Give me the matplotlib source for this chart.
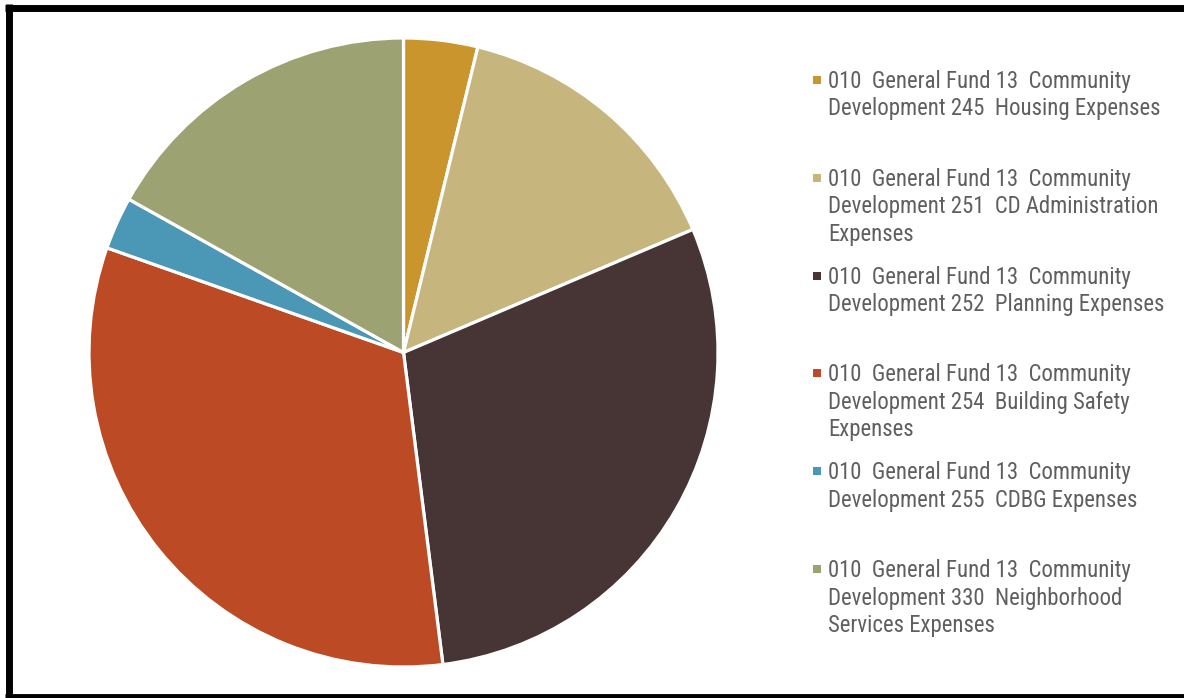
import matplotlib
matplotlib.use("Agg")
import matplotlib.pyplot as plt
from matplotlib.patches import Rectangle

# Community Development expense shares (percent of total)
categories = [
    "010  General Fund 13  Community\nDevelopment 245  Housing Expenses",
    "010  General Fund 13  Community\nDevelopment 251  CD Administration\nExpenses",
    "010  General Fund 13  Community\nDevelopment 252  Planning Expenses",
    "010  General Fund 13  Community\nDevelopment 254  Building Safety\nExpenses",
    "010  General Fund 13  Community\nDevelopment 255  CDBG Expenses",
    "010  General Fund 13  Community\nDevelopment 330  Neighborhood\nServices Expenses",
]
shares = [3.8, 14.8, 29.4, 32.4, 2.7, 16.9]
colors = ["#C9952C", "#C6B67E", "#463534", "#BC4B25", "#4B97B6", "#9DA273"]

W, H = 1184, 698
fig = plt.figure(figsize=(W / 100, H / 100), dpi=100)
ax = fig.add_axes([0, 0, 1, 1])

ax.pie(shares, colors=colors, startangle=90, counterclock=False,
       center=(403.5, H - 352.5), radius=314.5,
       wedgeprops=dict(edgecolor="white", linewidth=2.3))
ax.set_xlim(0, W)
ax.set_ylim(0, H)
ax.set_aspect("equal")
ax.axis("off")

# Legend: square marker plus wrapped label, evenly spaced entries
font = ["Roboto Condensed", "Archivo Narrow", "DejaVu Sans"]
top0, step = 80, 97.8
for i, (lab, col) in enumerate(zip(categories, colors)):
    y = H - (top0 + i * step)
    ax.add_patch(Rectangle((813, y - 4), 8, 8, facecolor=col, edgecolor="none"))
    ax.text(828, y + 10, lab, family=font, fontsize=16.4, color="#5f5f5f",
            va="top", ha="left", linespacing=1.25,
            transform=ax.transData)

# Outer frame
ax.plot([8.5, 8.5], [0, H - 4], color="black", lw=5.0, solid_capstyle="butt")
ax.plot([5, W], [H - 7.5, H - 7.5], color="black", lw=5.0, solid_capstyle="butt")
ax.plot([5, W], [2, 2], color="black", lw=3.5, solid_capstyle="butt")

fig.savefig("out.png", dpi=100)
